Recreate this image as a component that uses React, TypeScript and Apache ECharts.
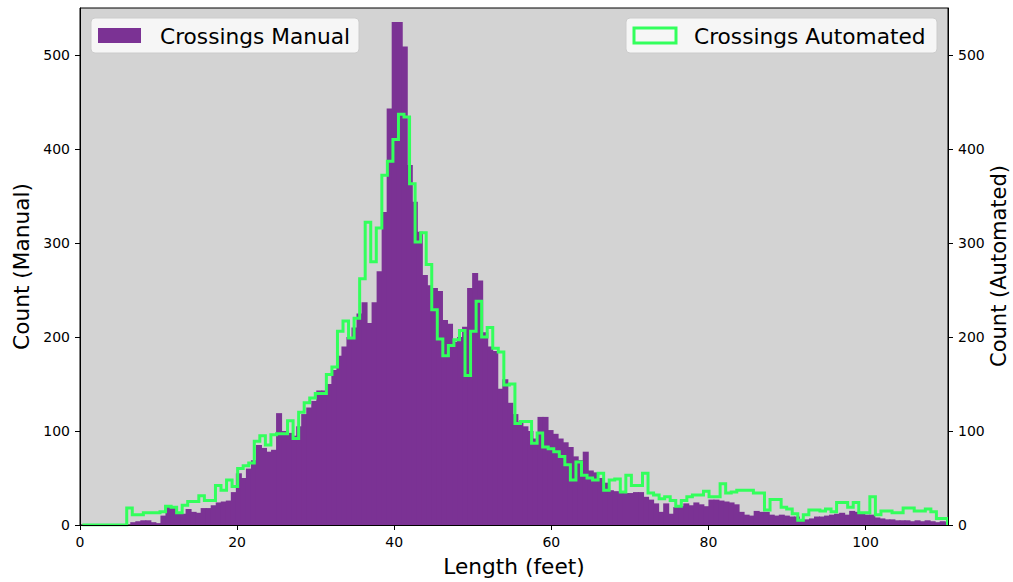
import React, { useEffect, useRef } from "react";
import * as echarts from "echarts";

const X_MIN = 0;
const X_MAX = 110.5;
const Y_MIN = 0;
const Y_MAX = 550;
const xTicks = [0, 20, 40, 60, 80, 100];
const yTicks = [0, 100, 200, 300, 400, 500];

const manualName = "Crossings Manual";
const autoName = "Crossings Automated";
const rightAxisTitle = "Count (Automated)";

// Manual histogram: equal-width bins starting at manualBinStart
const manualBinStart = 0;
const manualBinWidth = 0.64;
const manualCounts = [
  0, 0, 0, 0, 0, 0, 0, 0, 0, 0,
  3, 4, 5, 5, 3, 2, 10, 20, 20, 12,
  12, 17, 14, 13, 18, 18, 21, 24, 25, 26,
  35, 55, 50, 60, 69, 85, 82, 78, 80, 119,
  100, 98, 95, 105, 118, 125, 132, 143, 143, 150,
  165, 180, 190, 200, 210, 225, 237, 215, 237, 270,
  333, 443, 535, 535, 509, 383, 344, 312, 266, 255,
  252, 249, 218, 214, 195, 200, 211, 252, 268, 260,
  205, 190, 185, 145, 155, 130, 118, 110, 105, 100,
  92, 115, 115, 101, 97, 92, 88, 83, 73, 69,
  78, 58, 56, 50, 45, 37, 36, 35, 34, 34,
  35, 35, 30, 27, 23, 14, 23, 12, 19, 20,
  23, 21, 24, 22, 20, 27, 27, 26, 25, 24,
  22, 14, 11, 10, 15, 14, 14, 11, 10, 11,
  10, 9, 9, 5, 6, 7, 9, 9, 10, 11,
  12, 13, 11, 15, 14, 12, 11, 11, 8, 7,
  6, 6, 5, 5, 5, 4, 5, 4, 5, 4,
  3, 4, 3,
];

// Automated histogram (step outline)
const autoBinStart = 0.3;
const autoBinWidth = 0.706;
const autoCounts = [
  0, 0, 0, 0, 0, 0, 0, 0, 18, 11,
  11, 13, 13, 13, 14, 20, 19, 13, 21, 25,
  25, 31, 26, 26, 42, 37, 48, 41, 60, 63,
  66, 89, 95, 85, 96, 97, 97, 111, 92, 120,
  130, 135, 140, 140, 160, 168, 206, 217, 199, 220,
  262, 322, 280, 316, 372, 387, 410, 437, 434, 363,
  301, 311, 277, 229, 198, 180, 191, 197, 207, 159,
  206, 238, 200, 210, 188, 184, 149, 150, 108, 110,
  110, 87, 98, 83, 81, 78, 73, 64, 48, 67,
  53, 50, 48, 55, 37, 48, 49, 35, 53, 42,
  42, 55, 34, 32, 28, 30, 26, 20, 26, 30,
  32, 32, 36, 30, 30, 44, 34, 35, 37, 37,
  37, 34, 34, 16, 27, 27, 19, 17, 12, 5,
  11, 16, 16, 15, 17, 14, 24, 24, 19, 24,
  13, 13, 30, 11, 15, 15, 13, 13, 18, 18,
  15, 15, 17, 14, 7, 7,
];

const PURPLE = "#7b3294";
const GREEN = "#33ff5c";
const FONT = "DejaVu Sans";

export default function App() {
  const ref = useRef<HTMLDivElement>(null);

  useEffect(() => {
    if (!ref.current) return;
    const chart = echarts.init(ref.current, null, { renderer: "svg" });

    const manualData = manualCounts.map((c, i) => [
      manualBinStart + i * manualBinWidth,
      manualBinStart + (i + 1) * manualBinWidth,
      c,
    ]);

    const autoData: number[][] = [[autoBinStart, 0]];
    autoCounts.forEach((c, i) => autoData.push([autoBinStart + i * autoBinWidth, c]));
    const lastEdge = autoBinStart + autoCounts.length * autoBinWidth;
    autoData.push([lastEdge, autoCounts[autoCounts.length - 1]]);
    autoData.push([lastEdge, 0]);

    const tickLabel = { fontSize: 14, color: "#000", fontFamily: FONT, margin: 10 };
    const nameStyle = { fontSize: 21.7, color: "#000", fontFamily: FONT };

    const option: any = {
      animation: false,
      backgroundColor: "#ffffff",
      grid: {
        left: 80,
        top: 8,
        width: 868,
        height: 517,
        outerBoundsMode: "none",
        containLabel: false,
        show: true,
        backgroundColor: "#d3d3d3",
        borderColor: "#000",
        borderWidth: 1,
      },
      xAxis: {
        type: "value",
        min: X_MIN,
        max: X_MAX,
        z: 10,
        name: "Length (feet)",
        nameLocation: "middle",
        nameGap: 30,
        nameTextStyle: nameStyle,
        axisLine: { show: true, lineStyle: { color: "#000", width: 1 } },
        axisTick: { show: true, length: 5, lineStyle: { color: "#000" }, customValues: xTicks },
        axisLabel: { ...tickLabel, customValues: xTicks },
        splitLine: { show: false },
      },
      yAxis: [
        {
          type: "value",
          position: "left",
          min: Y_MIN,
          max: Y_MAX,
          z: 10,
          name: "Count (Manual)",
          nameLocation: "middle",
          nameGap: 47,
          nameRotate: 90,
          nameTextStyle: nameStyle,
          axisLine: { show: true, lineStyle: { color: "#000", width: 1 } },
          axisTick: { show: true, length: 5, lineStyle: { color: "#000" }, customValues: yTicks },
          axisLabel: { ...tickLabel, customValues: yTicks },
          splitLine: { show: false },
        },
        {
          type: "value",
          position: "right",
          min: Y_MIN,
          max: Y_MAX,
          z: 10,
          axisLine: { show: true, lineStyle: { color: "#000", width: 1 } },
          axisTick: { show: true, length: 5, lineStyle: { color: "#000" }, customValues: yTicks },
          axisLabel: { ...tickLabel, customValues: yTicks },
          splitLine: { show: false },
        },
      ],
      series: [
        {
          name: manualName,
          type: "custom",
          xAxisIndex: 0,
          yAxisIndex: 0,
          clip: true,
          z: 2,
          encode: { x: [0, 1], y: 2 },
          data: manualData,
          renderItem: (params: any, api: any) => {
            const x0 = api.value(0);
            const x1 = api.value(1);
            const v = api.value(2);
            if (!v) return { type: "group", children: [] };
            const p0 = api.coord([x0, v]);
            const p1 = api.coord([x1, 0]);
            return {
              type: "rect",
              shape: {
                x: p0[0],
                y: p0[1],
                width: p1[0] - p0[0] + 1,
                height: p1[1] - p0[1],
              },
              style: { fill: PURPLE },
            };
          },
        },
        {
          name: autoName,
          type: "line",
          xAxisIndex: 0,
          yAxisIndex: 1,
          step: "end",
          showSymbol: false,
          symbol: "none",
          clip: true,
          z: 3,
          data: autoData,
          lineStyle: { color: GREEN, width: 3, join: "miter" },
        },
      ],
      graphic: [
        {
          type: "text",
          z: 21,
          x: 999,
          y: 266,
          rotation: Math.PI / 2,
          style: {
            text: rightAxisTitle,
            fontSize: 21,
            fontFamily: FONT,
            fill: "#000",
            align: "center",
            verticalAlign: "middle",
          },
        },
        {
          type: "rect",
          z: 20,
          shape: { x: 91, y: 18, width: 268, height: 35, r: 4 },
          style: { fill: "rgba(255,255,255,0.8)", stroke: "#cccccc", lineWidth: 1 },
        },
        {
          type: "rect",
          z: 21,
          shape: { x: 98, y: 28, width: 43, height: 15 },
          style: { fill: PURPLE },
        },
        {
          type: "text",
          z: 21,
          x: 160,
          y: 36,
          style: {
            text: manualName,
            fontSize: 21.7,
            fontFamily: FONT,
            fill: "#000",
            verticalAlign: "middle",
            align: "left",
          },
        },
        {
          type: "rect",
          z: 20,
          shape: { x: 626, y: 18, width: 311, height: 35, r: 4 },
          style: { fill: "rgba(255,255,255,0.8)", stroke: "#cccccc", lineWidth: 1 },
        },
        {
          type: "rect",
          z: 21,
          shape: { x: 634, y: 28, width: 42, height: 15 },
          style: { fill: "none", stroke: GREEN, lineWidth: 3 },
        },
        {
          type: "text",
          z: 21,
          x: 694,
          y: 36,
          style: {
            text: autoName,
            fontSize: 21.7,
            fontFamily: FONT,
            fill: "#000",
            verticalAlign: "middle",
            align: "left",
          },
        },
      ],
    };

    chart.setOption(option);
    return () => chart.dispose();
  }, []);

  return (
    <div
      ref={ref}
      style={{ position: "absolute", left: 0, top: 0, width: 1013, height: 582 }}
    />
  );
}
